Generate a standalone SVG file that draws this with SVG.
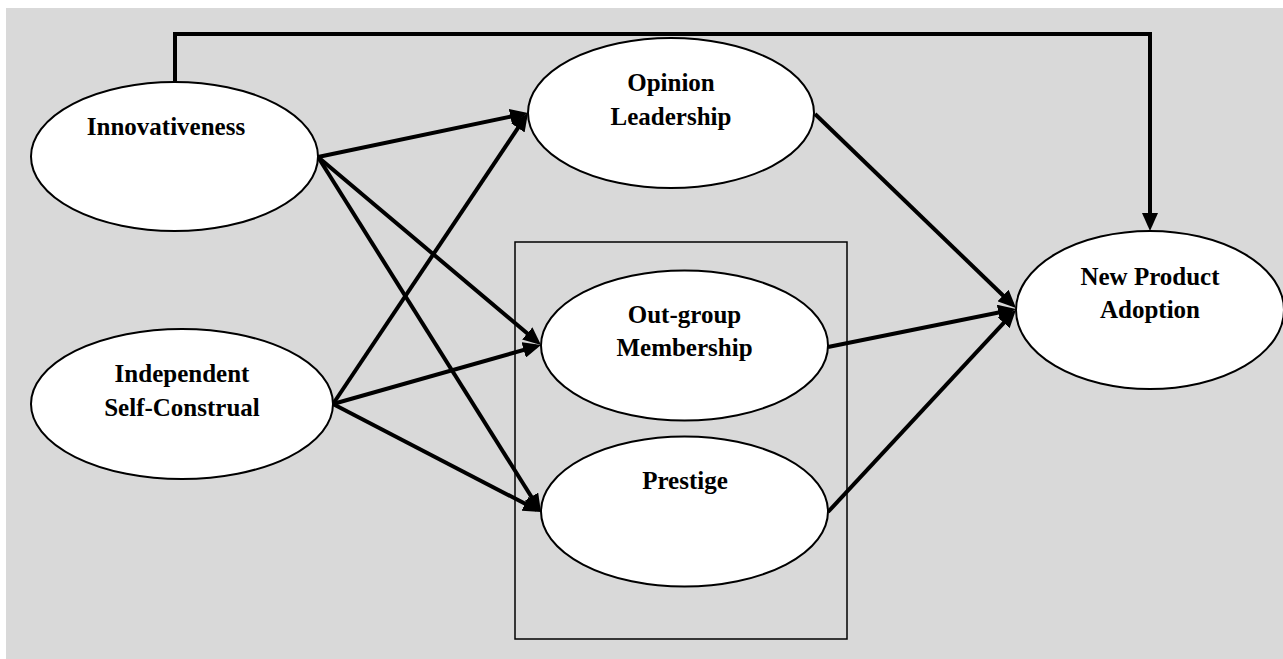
<svg xmlns="http://www.w3.org/2000/svg" width="1283" height="659" viewBox="0 0 1283 659">
  <style>
    .node ellipse { fill: #ffffff; stroke: #000000; stroke-width: 2; }
    .node text { font-family: "Liberation Serif", "Times New Roman", serif; font-weight: bold; font-size: 25px; fill: #000000; text-anchor: middle; }
    .conn line, .conn path { stroke: #000000; stroke-width: 4; fill: none; }
  </style>
  <defs>
    <marker id="arrow" markerUnits="userSpaceOnUse" markerWidth="18" markerHeight="16" refX="13" refY="8" orient="auto" viewBox="0 0 18 16">
      <path d="M0,0 L18,8 L0,16 Z" fill="#000000"/>
    </marker>
  </defs>
  <rect x="6" y="8" width="1277" height="651" fill="#d9d9d9"/>
  <rect id="mediator-box" x="515" y="242" width="332" height="397" fill="none" stroke="#000000" stroke-width="1.5"/>
  <g class="conn" id="connectors">
    <path d="M175,82 V34 H1150 V226" marker-end="url(#arrow)"/>
    <line x1="318" y1="157" x2="523.1" y2="114" marker-end="url(#arrow)"/>
    <line x1="318" y1="157" x2="537.2" y2="341.8" marker-end="url(#arrow)"/>
    <line x1="318" y1="157" x2="538.3" y2="507.8" marker-end="url(#arrow)"/>
    <line x1="333" y1="404" x2="525.2" y2="117.2" marker-end="url(#arrow)"/>
    <line x1="333" y1="404" x2="536.2" y2="346.4" marker-end="url(#arrow)"/>
    <line x1="333" y1="404" x2="536.6" y2="509.7" marker-end="url(#arrow)"/>
    <line x1="815" y1="114" x2="1012.4" y2="304.5" marker-end="url(#arrow)"/>
    <line x1="828" y1="347" x2="1011.1" y2="310" marker-end="url(#arrow)"/>
    <line x1="828" y1="512" x2="1012.6" y2="313.3" marker-end="url(#arrow)"/>
  </g>
  <g class="node" id="innovativeness">
    <ellipse cx="174.5" cy="156.5" rx="143.5" ry="74.5"/>
    <text x="166" y="135">Innovativeness</text>
  </g>
  <g class="node" id="independent">
    <ellipse cx="182" cy="404" rx="151" ry="75"/>
    <text x="182" y="382">Independent</text>
    <text x="182" y="416">Self-Construal</text>
  </g>
  <g class="node" id="opinion-leadership">
    <ellipse cx="671" cy="113" rx="143" ry="75"/>
    <text x="671" y="91">Opinion</text>
    <text x="671" y="125">Leadership</text>
  </g>
  <g class="node" id="out-group">
    <ellipse cx="684.5" cy="345.5" rx="143.5" ry="75"/>
    <text x="684.5" y="323">Out-group</text>
    <text x="684.5" y="356">Membership</text>
  </g>
  <g class="node" id="prestige">
    <ellipse cx="684.5" cy="511.5" rx="143.5" ry="75"/>
    <text x="685" y="489">Prestige</text>
  </g>
  <g class="node" id="new-product-adoption">
    <ellipse cx="1150" cy="310" rx="134" ry="79"/>
    <text x="1150" y="285">New Product</text>
    <text x="1150" y="318">Adoption</text>
  </g>
</svg>
